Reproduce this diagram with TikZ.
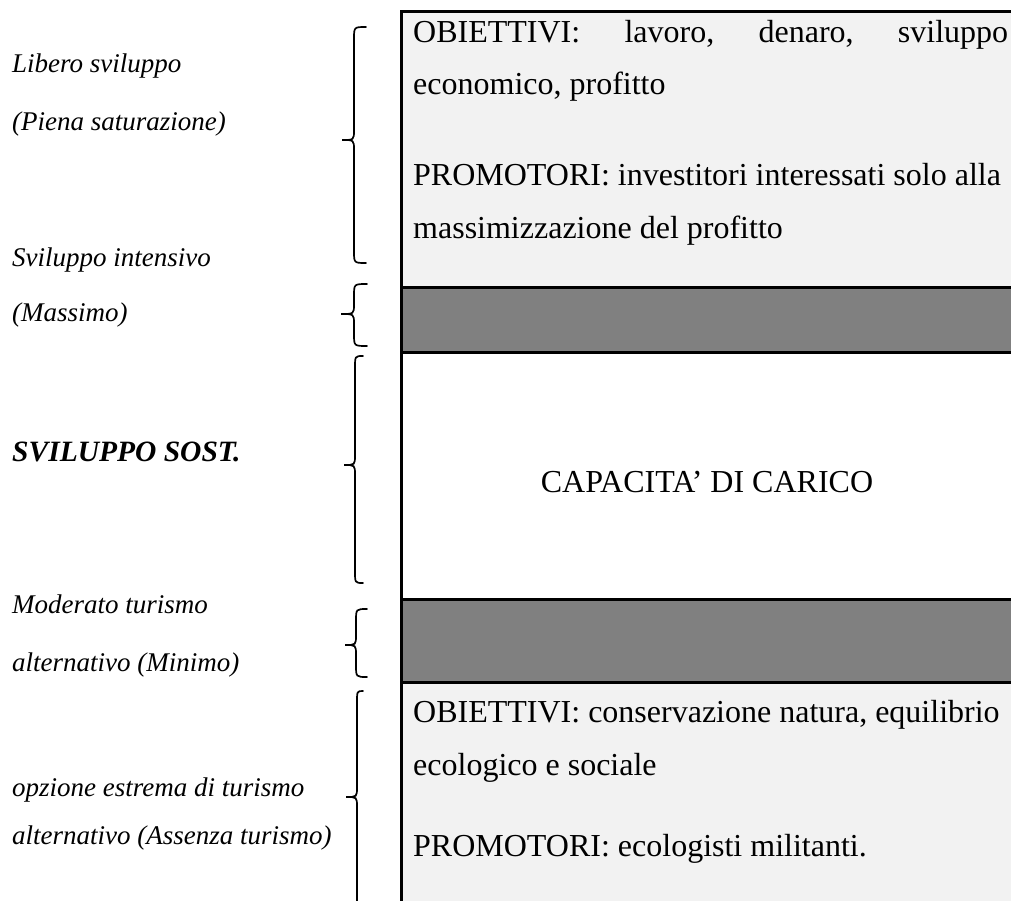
\documentclass[tikz,border=0pt]{standalone}
\usepackage{fontspec}
\setmainfont{Liberation Serif}
\definecolor{panelgrey}{HTML}{F2F2F2}
\definecolor{bandgrey}{HTML}{808080}
% curly brace: #1 top y, #2 tip y, #3 bottom y, #4 end x, #5 stem x, #6 tip x
\newcommand\sidebrace[6]{%
  \draw[bracestroke] (#4,#1) .. controls (#5,#1) .. (#5,{#1+12})
    -- (#5,{#2-10}) .. controls (#5,#2) .. (#6,#2)
    .. controls (#5,#2) .. (#5,{#2+10})
    -- (#5,{#3-12}) .. controls (#5,#3) .. (#4,#3);}
\begin{document}
\begin{tikzpicture}[x=1pt,y=-1pt,
  rtext/.style={anchor=base west, inner sep=0pt, font=\fontsize{32}{38}\selectfont},
  ltext/.style={anchor=base west, inner sep=0pt, font=\fontsize{27}{32}\selectfont\itshape},
  rule/.style={draw=black, line width=3pt},
  bracestroke/.style={draw=black, line width=1.7pt, line cap=round}
]
\useasboundingbox (0,0) rectangle (1011,901);
\fill[white] (0,0) rectangle (1011,901);

% panels and bands
\fill[panelgrey] (401,12) rectangle (1011,287);
\fill[bandgrey] (401,287) rectangle (1011,352);
\fill[bandgrey] (401,599) rectangle (1011,682);
\fill[panelgrey] (401,682) rectangle (1011,901);
\draw[rule] (401,12) -- (1011,12);
\draw[rule] (401,287) -- (1011,287);
\draw[rule] (401,352) -- (1011,352);
\draw[rule] (401,599) -- (1011,599);
\draw[rule] (401,682) -- (1011,682);
\draw[rule] (401,10.5) -- (401,901);

% text in the upper panel
\node[rtext] (obj1) at (413,43) {\hbox to 595pt{OBIETTIVI:\hfill lavoro,\hfill denaro,\hfill sviluppo}};
\node[rtext] (obj1b) at (413,95) {economico, profitto};
\node[rtext] (pro1) at (413,186) {PROMOTORI: investitori interessati solo alla};
\node[rtext] (pro1b) at (413,239) {massimizzazione del profitto};

% middle panel
\node[rtext, anchor=base] (cap) at (707,492) {CAPACITA’ DI CARICO};

% lower panel
\node[rtext] (obj2) at (413,722) {OBIETTIVI: conservazione natura, equilibrio};
\node[rtext] (obj2b) at (413,775) {ecologico e sociale};
\node[rtext] (pro2) at (413,856) {PROMOTORI: ecologisti militanti.};

% labels on the left
\node[ltext] (l1) at (12,73) {Libero sviluppo};
\node[ltext] (l2) at (12,131) {(Piena saturazione)};
\node[ltext] (l3) at (12,266) {Sviluppo intensivo};
\node[ltext] (l4) at (12,321) {(Massimo)};
\node[ltext, font=\fontsize{29.5}{34}\selectfont\itshape\bfseries] (l5) at (12,461) {SVILUPPO SOST.};
\node[ltext] (l6) at (12,613) {Moderato turismo};
\node[ltext] (l7) at (12,671) {alternativo (Minimo)};
\node[ltext] (l8) at (12,796) {opzione estrema di turismo};
\node[ltext] (l9) at (12,844) {alternativo (Assenza turismo)};

% braces
\sidebrace{27}{140}{263}{366}{354}{342}
\sidebrace{284}{314}{346}{367}{354}{341}
\sidebrace{356}{465}{583}{363}{355}{344}
\sidebrace{609}{645}{677}{367}{356}{345}
\sidebrace{691}{797}{912}{363}{357}{346}
\end{tikzpicture}
\end{document}
